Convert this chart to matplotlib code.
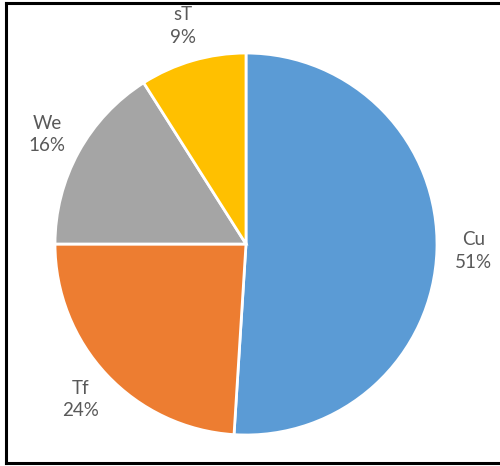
import matplotlib.pyplot as plt
from matplotlib.lines import Line2D

names = ["Cu", "Tf", "We", "sT"]
shares = [51, 24, 16, 9]
colors = ["#5B9BD5", "#ED7D31", "#A5A5A5", "#FFC000"]

fig = plt.figure(figsize=(5.0, 4.66), dpi=100)
ax = fig.add_axes([0.11, 0.0665, 0.764, 0.8197])

labels = [f"{n}\n{v}%" for n, v in zip(names, shares)]
wedges, texts = ax.pie(
    shares,
    labels=labels,
    colors=colors,
    startangle=90,
    counterclock=False,
    labeldistance=1.19,
    radius=1.0,
    wedgeprops=dict(edgecolor="white", linewidth=2),
    textprops=dict(fontsize=13.5, color="#595959", family="Lato",
                   linespacing=1.4),
)
for t in texts:
    t.set_horizontalalignment("center")
    t.set_verticalalignment("center")

ax.set_xlim(-1, 1)
ax.set_ylim(-1, 1)
ax.set_aspect("equal")

# chart area border (left, top, bottom)
W, H = 500, 466
frame = dict(color="black", linewidth=2.2, transform=fig.transFigure)
fig.add_artist(Line2D([6 / W, 6 / W], [1 - 3 / H, 1 - 463 / H], **frame))
fig.add_artist(Line2D([6 / W, 1], [1 - 3 / H, 1 - 3 / H], **frame))
fig.add_artist(Line2D([6 / W, 1], [1 - 463 / H, 1 - 463 / H], **frame))

fig.savefig("out.png", dpi=100)
